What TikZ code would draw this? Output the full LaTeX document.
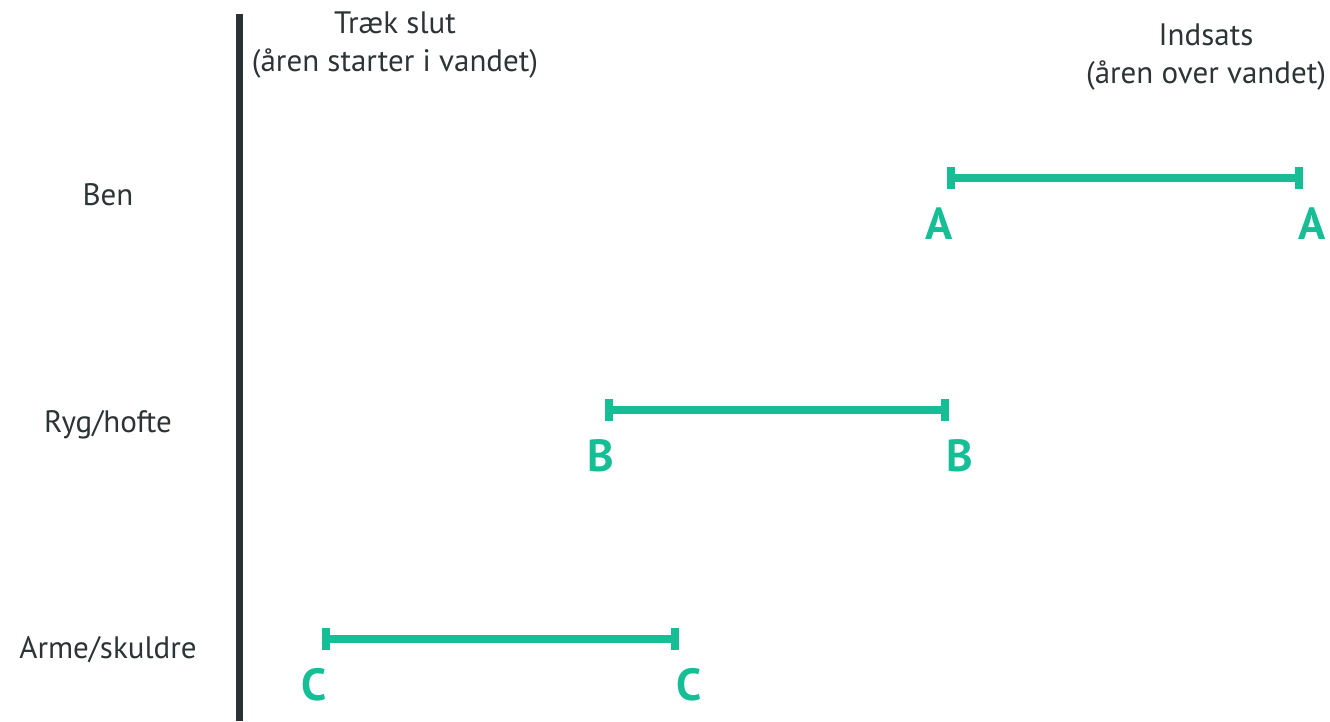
\documentclass[tikz,border=0pt]{standalone}
\usepackage{fontspec}
\setmainfont{PT Sans}
\definecolor{ink}{HTML}{2D3436}
\definecolor{barcol}{HTML}{2B3236}
\definecolor{teal}{HTML}{16BE96}
\begin{document}
\begin{tikzpicture}[x=1pt,y=-1pt,
  lbl/.style={font=\fontsize{31}{34}\selectfont, text=ink, inner sep=0pt, anchor=base, align=center},
  phase/.style={font=\fontsize{45}{48}\selectfont\bfseries, text=teal, inner sep=0pt, anchor=base},
  span/.style={draw=teal, line width=8pt},
  tick/.style={draw=teal, line width=8pt}]
\useasboundingbox (0,0) rectangle (1330,721);

% stroke-end marker
\draw[barcol, line width=7pt] (239,14) -- (239,721);

% column headings
\node[lbl] (endT) at (395,33) {Træk slut};
\node[lbl] (endS) at (395,71) {(åren starter i vandet)};
\node[lbl] (insT) at (1206,45) {Indsats};
\node[lbl] (insS) at (1206,83) {(åren over vandet)};

% row labels
\node[lbl] (ben) at (108,205) {Ben};
\node[lbl] (ryg) at (108,432) {Ryg/hofte};
\node[lbl] (arme) at (108,658) {Arme/skuldre};

% body segments
\coordinate (a1) at (951,178);
\coordinate (a2) at (1299,178);
\coordinate (b1) at (609,410);
\coordinate (b2) at (945,410);
\coordinate (c1) at (326,639);
\coordinate (c2) at (675,639);

\foreach \p/\q in {a1/a2,b1/b2,c1/c2}{
  \draw[span] (\p) -- (\q);
  \draw[tick] ([yshift=-11pt]\p) -- ([yshift=11pt]\p);
  \draw[tick] ([yshift=-11pt]\q) -- ([yshift=11pt]\q);
}

\node[phase] (la1) at (939,239) {A};
\node[phase] (la2) at (1312,239) {A};
\node[phase] (lb1) at (601,471) {B};
\node[phase] (lb2) at (960,471) {B};
\node[phase] (lc1) at (314,700) {C};
\node[phase] (lc2) at (689,700) {C};
\end{tikzpicture}
\end{document}
